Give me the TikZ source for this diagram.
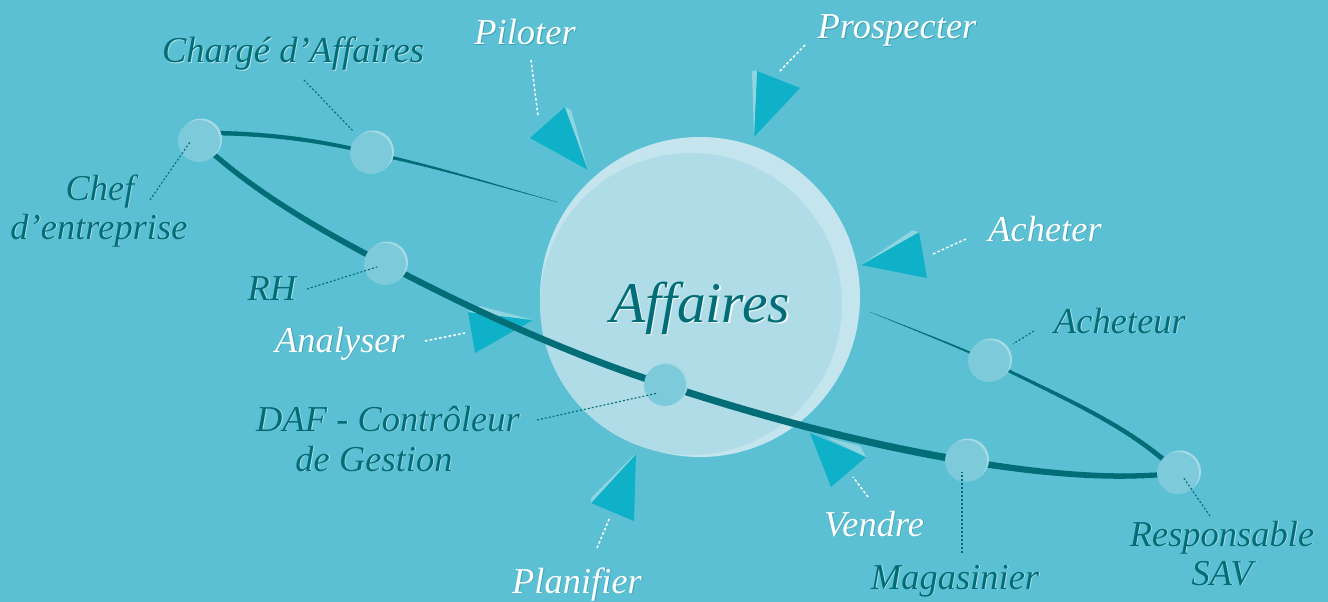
\documentclass[tikz,border=0pt]{standalone}
\usepackage{fontspec}
\setmainfont{Liberation Serif}
\pgfdeclarelayer{back}
\pgfdeclarelayer{mid}
\pgfdeclarelayer{front}
\pgfsetlayers{back,mid,front,main}
\definecolor{bgc}{HTML}{5BC0D3}
\definecolor{sphout}{HTML}{C4E5ED}
\definecolor{sphin}{HTML}{B0DCE7}
\definecolor{dotc}{HTML}{7DCADA}
\definecolor{dotrim}{HTML}{A6DBE6}
\definecolor{tric}{HTML}{0EB1C8}
\definecolor{trilight}{HTML}{8FD4E1}
\definecolor{dteal}{HTML}{006D77}
\definecolor{dshadow}{HTML}{B5E2EA}
\definecolor{wshadow}{HTML}{3A9FB1}
\tikzset{
 lbl/.style={font=\fontsize{36.5}{40}\selectfont\itshape, anchor=base, inner sep=0pt, outer sep=0pt},
 dotnode/.style={circle, minimum size=42pt, inner sep=0pt, outer sep=0pt, fill=dotc},
 orbit/.style={draw=dteal, line cap=butt},
 tri/.style={fill=tric},
 trisl/.style={fill=trilight},
 leadd/.style={draw=dteal, line width=1.1pt, dash pattern=on 2pt off 2pt},
 leadw/.style={draw=white, line width=1.5pt, dash pattern=on 2.6pt off 2.2pt},
}
\newcommand\dlab[3]{\node[lbl,text=dshadow,xshift=0.9pt,yshift=-0.9pt] (#1s) at (#2) {#3};\node[lbl,text=dteal] (#1) at (#2) {#3};}
\newcommand\wlab[3]{\node[lbl,text=wshadow,xshift=0.9pt,yshift=-0.9pt] (#1s) at (#2) {#3};\node[lbl,text=white] (#1) at (#2) {#3};}
\newcommand\orbdot[2]{\node[dotnode,fill=dotrim,xshift=2pt,yshift=1.5pt] (#1r) at (#2) {};\node[dotnode] (#1) at (#2) {};}
\newcommand\taper[5]{%
  \foreach \k in {0,...,23}{%
    \pgfmathsetmacro\xa{\k==0 ? -200 : #2+(#3-#2)*\k/24-0.4}%
    \pgfmathsetmacro\xb{\k==23 ? 1600 : #2+(#3-#2)*(\k+1)/24+0.4}%
    \pgfmathsetmacro\ww{#4+(#5-#4)*(\k+0.5)/24}%
    \begin{scope}
      \clip (\xa,-20) rectangle (\xb,620);
      \draw[orbit, line width=\ww pt] #1;
    \end{scope}}}
\begin{document}
\begin{tikzpicture}[x=1pt,y=-1pt]
\useasboundingbox (0,0) rectangle (1328,602);
% dots (main layer)
\orbdot{chef}{199,141}
\orbdot{charge}{371,153}
\orbdot{rh}{385,264}
\orbdot{daf}{665,385}
\orbdot{mag}{966,461}
\orbdot{sav}{1178,473}
\orbdot{acht}{989,361}
\coordinate (sphL) at (557,202);
\coordinate (sphR) at (870,312);
\begin{pgfonlayer}{back}
\fill[bgc] (0,0) rectangle (1328,602);
\taper{(chef.22) .. controls (270,134) and (321,140.5) .. (charge.center)}{218}{371}{4.5}{3.6}
\taper{(charge.center) .. controls (434,166) and (495,185) .. (sphL)}{371}{557}{3.4}{0.2}
\taper{(sphR) .. controls (910,328) and (950,343.5) .. (acht.center)}{870}{989}{0.2}{2.3}
\taper{(acht.center) .. controls (1056,395) and (1130,425) .. (sav.center)}{989}{1170}{2.6}{5}
\end{pgfonlayer}
\begin{pgfonlayer}{mid}
\node[circle, minimum size=320pt, inner sep=0pt, fill=sphout] (sphere) at (700,297) {};
\node[circle, minimum size=302pt, inner sep=0pt, fill=sphin] (core) at (691,304) {};
\node[font=\fontsize{57.5}{60}\selectfont\itshape, text=white!85!sphin, anchor=base, inner sep=0pt, xshift=1.5pt, yshift=-1.5pt] (affs) at (700,322) {Affaires};
\node[font=\fontsize{57.5}{60}\selectfont\itshape, text=dteal, anchor=base, inner sep=0pt] (aff) at (700,322) {Affaires};
% triangles
\fill[tri] (530,138) -- (565,107) -- (588,170) -- cycle;
\fill[trisl] (565,107) -- (571,110) -- (588,170) -- cycle;
\fill[tri] (757,71) -- (800,88) -- (754,137) -- cycle;
\fill[trisl] (752,71) -- (757,71) -- (754,137) -- cycle;
\fill[tri] (861,265) -- (919,232) -- (927,278) -- cycle;
\fill[trisl] (861,265) -- (912,230.5) -- (919,232) -- cycle;
\fill[tri] (468,312) -- (533,320) -- (475,353) -- cycle;
\fill[trisl] (468,312) -- (480,306) -- (533,320) -- cycle;
\fill[tri] (636,454) -- (591,503) -- (634,521) -- cycle;
\fill[trisl] (591,503) -- (591,498) -- (634,455) -- (636,454) -- cycle;
\fill[tri] (810,433) -- (866,457) -- (831,487) -- cycle;
\fill[trisl] (825,437) -- (860,446) -- (866,457) -- cycle;
\end{pgfonlayer}
\begin{pgfonlayer}{front}
\taper{(chef.center) .. controls (252,191) and (320,230) .. (rh.center)}{199}{385}{5}{6}
\taper{(rh.center) .. controls (475,311) and (568,354) .. (daf.center)}{385}{665}{6}{7}
\taper{(daf.center) .. controls (763,417) and (863,444) .. (mag.center)}{665}{966}{7}{7.2}
\taper{(mag.center) .. controls (1032,472) and (1110,481) .. (sav.center)}{966}{1178}{6.6}{5}
\end{pgfonlayer}
% leader lines
\coordinate (lcha1) at (304,80);   \coordinate (lcha2) at (353,131);
\coordinate (lche1) at (150,200);  \coordinate (lche2) at (190,142);
\coordinate (lrh1) at (307,289);   \coordinate (lrh2) at (377,267);
\coordinate (ldaf1) at (537,420);  \coordinate (ldaf2) at (658,393);
\coordinate (lmag1) at (962,553);  \coordinate (lmag2) at (962,472);
\coordinate (lsav1) at (1210,516); \coordinate (lsav2) at (1183,477);
\coordinate (lach1) at (1034,331); \coordinate (lach2) at (1013,344);
\draw[leadd] (lcha1) -- (lcha2);
\draw[leadd] (lche1) -- (lche2);
\draw[leadd] (lrh1) -- (lrh2);
\draw[leadd] (ldaf1) -- (ldaf2);
\draw[leadd] (lmag1) -- (lmag2);
\draw[leadd] (lsav1) -- (lsav2);
\draw[leadd] (lach1) -- (lach2);
\coordinate (wpil1) at (531,60);   \coordinate (wpil2) at (538,116);
\coordinate (wpro1) at (805,45);   \coordinate (wpro2) at (779,72);
\coordinate (wach1) at (966,239);  \coordinate (wach2) at (933,254);
\coordinate (wana1) at (425,341);  \coordinate (wana2) at (465,333);
\coordinate (wpla1) at (597,548);  \coordinate (wpla2) at (610,517);
\coordinate (wven1) at (868,497);  \coordinate (wven2) at (853,477);
\draw[leadw] (wpil1) -- (wpil2);
\draw[leadw] (wpro1) -- (wpro2);
\draw[leadw] (wach1) -- (wach2);
\draw[leadw] (wana1) -- (wana2);
\draw[leadw] (wpla1) -- (wpla2);
\draw[leadw] (wven1) -- (wven2);
% labels
\dlab{tcharge}{293,63}{Chargé d'Affaires}
\wlab{tpil}{525,45}{Piloter}
\wlab{tpro}{897,39}{Prospecter}
\dlab{tchef}{100,200}{Chef}
\dlab{tentr}{99,239}{d'entreprise}
\dlab{trh}{272,300}{RH}
\wlab{tana}{340,352}{Analyser}
\wlab{tach}{1045,241}{Acheter}
\dlab{tacht}{1120,333}{Acheteur}
\dlab{tdaf}{388,431}{DAF - Contrôleur}
\dlab{tges}{374,471}{de Gestion}
\wlab{tpla}{577,593}{Planifier}
\wlab{tven}{874,536}{Vendre}
\dlab{tmag}{955,589}{Magasinier}
\dlab{tresp}{1222,546}{Responsable}
\dlab{tsav}{1222,585}{SAV}
\end{tikzpicture}
\end{document}
